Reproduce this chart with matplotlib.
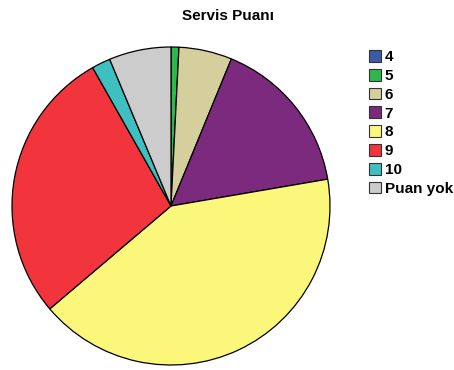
import matplotlib
matplotlib.use("Agg")
import matplotlib.pyplot as plt

plt.rcParams['font.family'] = ['Liberation Sans', 'DejaVu Sans']

# Share of responses per service score (percent)
labels = ["4", "5", "6", "7", "8", "9", "10", "Puan yok"]
values = [0.0, 0.8, 5.4, 16.1, 41.5, 28.0, 1.9, 6.3]
colors = ["#3b5ba9", "#2db84b", "#d5cf9d", "#7b2a7e", "#fbf77b",
          "#f2343c", "#3ec0c0", "#cccccc"]

fig = plt.figure(figsize=(4.54, 3.70), dpi=100)
ax = fig.add_axes([12 / 454, 5 / 370, 318 / 454, 318 / 370])

wedges, _ = ax.pie(values, colors=colors, startangle=90, counterclock=False,
                   wedgeprops=dict(edgecolor="black", linewidth=0.9))
ax.set_xlim(-1.0, 1.0)
ax.set_ylim(-1.0, 1.0)
ax.set_aspect("equal")

fig.text(228 / 454, 1 - 16 / 370, "Servis Puanı", ha="center", va="center",
         fontsize=11, fontweight="bold")

leg = fig.legend(wedges, labels, loc="upper left",
                 bbox_to_anchor=(369 / 454, 1 - 50 / 370),
                 frameon=False, prop={"weight": "bold", "size": 11},
                 handlelength=0.8, handleheight=0.8, handletextpad=0.22,
                 labelspacing=0.305, borderpad=0, borderaxespad=0)
for h in leg.legend_handles:
    h.set_edgecolor("#333333")
    h.set_linewidth(0.8)

fig.savefig("out.png", dpi=100)
